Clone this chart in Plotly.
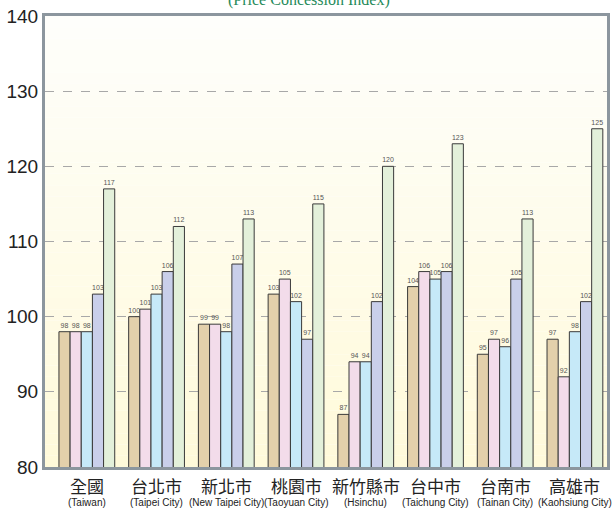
import plotly.graph_objects as go

regions = ['全國', '台北市', '新北市', '桃園市', '新竹縣市', '台中市', '台南市', '高雄市']
regions_en = ['(Taiwan)', '(Taipei City)', '(New Taipei City)', '(Taoyuan City)',
              '(Hsinchu)', '(Taichung City)', '(Tainan City)', '(Kaohsiung City)']

s1 = [98, 100, 99, 103, 87, 104, 95, 97]
s2 = [98, 101, 99, 105, 94, 106, 97, 92]
s3 = [98, 103, 98, 102, 94, 105, 96, 98]
s4 = [103, 106, 107, 97, 102, 106, 105, 102]
s5 = [117, 112, 113, 115, 120, 123, 113, 125]

series = [s1, s2, s3, s4, s5]
colors = ['#e3d0ab', '#f3dcea', '#c6e9f8', '#c9cfea', '#e3f0da']

fig = go.Figure()
for vals, col in zip(series, colors):
    fig.add_trace(go.Bar(
        x=regions, y=vals,
        marker=dict(color=col, line=dict(color='#3a3a3a', width=1)),
        text=vals, textposition='outside', cliponaxis=False,
        textfont=dict(size=7, color='#555555', family='Liberation Sans Narrow, Arial'),
        constraintext='none',
    ))

# soft vertical gradient behind the plot area
n = 40
top = (254, 254, 251)
bot = (255, 250, 218)
shapes = []
for i in range(n):
    t = i / (n - 1)
    c = tuple(round(top[k] + (bot[k] - top[k]) * t) for k in range(3))
    shapes.append(dict(type='rect', xref='paper', yref='paper',
                       x0=0, x1=1, y0=1 - (i + 1) / n, y1=1 - i / n,
                       fillcolor='rgb(%d,%d,%d)' % c, line=dict(width=0),
                       layer='below'))

# region labels: chinese line plus smaller english line
annotations = [dict(text='(Price Concession Index)', x=0.47, y=1, xref='paper',
                    yref='paper', yanchor='middle', yshift=16, showarrow=False,
                    font=dict(family='Liberation Serif, serif', size=16, color='#1f8a5a'))]
for zh, en in zip(regions, regions_en):
    annotations.append(dict(text=zh, x=zh, xref='x', y=0, yref='paper',
                            yanchor='middle', yshift=-18, showarrow=False, borderpad=0,
                            font=dict(size=17, family='Noto Sans CJK TC', color='#222222')))
    annotations.append(dict(text=en, x=zh, xref='x', y=0, yref='paper',
                            yanchor='middle', yshift=-35, showarrow=False, borderpad=0,
                            font=dict(size=10, family='Arial', color='#222222')))

fig.update_layout(
    width=613, height=508,
    margin=dict(l=45, r=6, t=16, b=41),
    paper_bgcolor='white',
    plot_bgcolor='rgba(0,0,0,0)',
    barmode='group', bargap=0.2, bargroupgap=0,
    showlegend=False,
    shapes=shapes,
    annotations=annotations,
    font=dict(family='Arial', color='#222222'),
)
fig.update_xaxes(
    range=[-0.6, 7.46],
    showticklabels=False, automargin=False,
    showline=True, mirror=True, linecolor='#8c969e', linewidth=3,
    ticks='', showgrid=False,
)
fig.update_yaxes(
    range=[80, 140], dtick=10, automargin=False,
    tickfont=dict(size=19, color='#222222', family='Arial'),
    showline=True, mirror=True, linecolor='#8c969e', linewidth=3,
    showgrid=True, gridcolor='#a8a8a8', griddash='dash', gridwidth=1,
    zeroline=False, ticks='',
)

# the page body has a default 8px margin; drop it so the figure fills the window
fig.write_html("out.html", config={'displayModeBar': False},
               post_script="document.body.style.margin = '0';")
